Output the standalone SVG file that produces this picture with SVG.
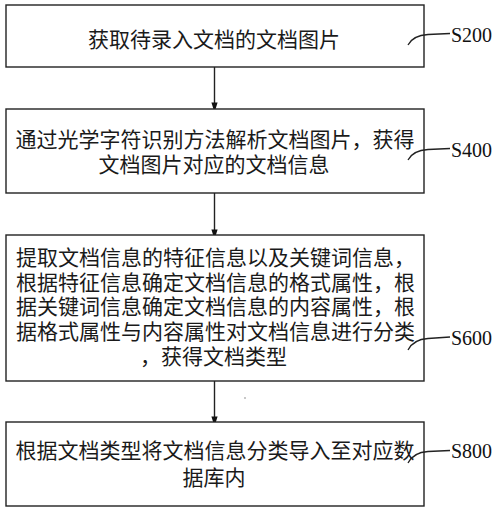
<svg xmlns="http://www.w3.org/2000/svg" width="500" height="512" viewBox="0 0 500 512">
<style>
.box{fill:#fff;stroke:#222;stroke-width:1.4}
.t{font-family:"Noto Sans CJK SC","Noto Sans CJK JP",sans-serif;font-size:21px;fill:#1a1a1a}
.c{text-anchor:middle}
.lbl{font-family:"Liberation Serif","Times New Roman",serif;font-size:20px;fill:#111}
.lead{fill:none;stroke:#222;stroke-width:1.3}
.conn{stroke:#222;stroke-width:1.4;fill:none}
</style>
<defs>
<marker id="ah" markerWidth="10" markerHeight="16" refX="9" refY="5" orient="auto" markerUnits="userSpaceOnUse" viewBox="0 0 16 10">
<path d="M0,0 L16,5 L0,10 Z" fill="#111"/>
</marker>
</defs>
<rect width="500" height="512" fill="#fff"/>
<g id="connectors">
<line class="conn" x1="214.5" y1="67" x2="214.5" y2="108" marker-end="url(#ah)"/>
<line class="conn" x1="214.5" y1="193" x2="214.5" y2="235" marker-end="url(#ah)"/>
<line class="conn" x1="214.5" y1="381" x2="214.5" y2="422" marker-end="url(#ah)"/>
<circle cx="245" cy="398" r="0.7" fill="#666"/>
</g>
<g id="s200">
<rect class="box" x="6" y="5" width="418" height="62"/>
<text class="t c" x="214" y="47">获取待录入文档的文档图片</text>
<path class="lead" d="M408,45 C412,37 420,35 428,34.5 L450,33.5"/>
<text class="lbl" x="451" y="41.7">S200</text>
</g>
<g id="s400">
<rect class="box" x="6" y="109" width="418" height="84"/>
<text class="t c"><tspan x="215" y="147">通过光学字符识别方法解析文档图片，获得</tspan><tspan x="214" y="172">文档图片对应的文档信息</tspan></text>
<path class="lead" d="M408,160 C412,152 420,150 428,149.5 L450,148.5"/>
<text class="lbl" x="451" y="156.7">S400</text>
</g>
<g id="s600">
<rect class="box" x="6" y="235" width="418" height="146"/>
<text class="t"><tspan x="16" y="265">提取文档信息的特征信息以及关键词信息，</tspan><tspan x="16" y="290">根据特征信息确定文档信息的格式属性，根</tspan><tspan x="16" y="314">据关键词信息确定文档信息的内容属性，根</tspan><tspan x="16" y="339">据格式属性与内容属性对文档信息进行分类</tspan><tspan x="140" y="364">，获得文档类型</tspan></text>
<path class="lead" d="M408,350 C412,342 420,339 428,338.5 L450,337"/>
<text class="lbl" x="451" y="345">S600</text>
</g>
<g id="s800">
<rect class="box" x="6" y="422" width="418" height="84"/>
<text class="t c"><tspan x="215" y="458">根据文档类型将文档信息分类导入至对应数</tspan><tspan x="214" y="485">据库内</tspan></text>
<path class="lead" d="M408,463 C412,455 420,452 428,451.5 L450,450.5"/>
<text class="lbl" x="451" y="458">S800</text>
</g>
</svg>
